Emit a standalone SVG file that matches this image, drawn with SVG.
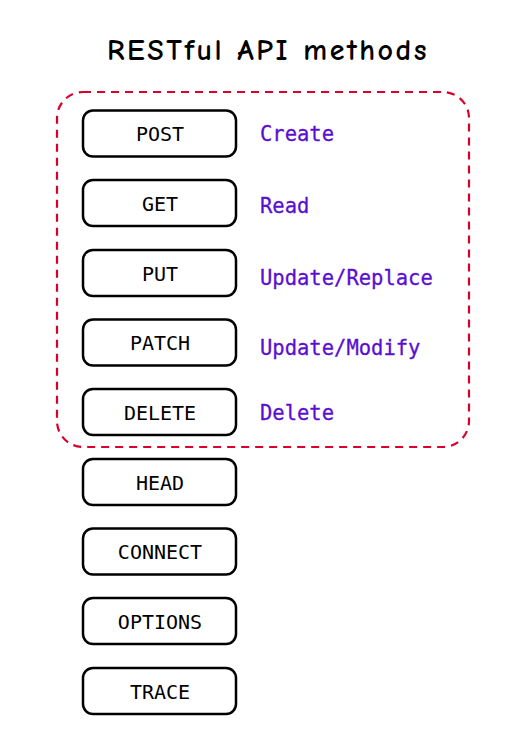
<svg xmlns="http://www.w3.org/2000/svg" width="512" height="752" viewBox="0 0 512 752">
<style>
.box{fill:#fff;stroke:#000;stroke-width:2.5}
.bt{font-family:"DejaVu Sans Mono","Liberation Mono",monospace;font-size:20px;fill:#000;text-anchor:middle}
.lb{font-family:"DejaVu Sans Mono","Liberation Mono",monospace;font-size:20.5px;fill:#5a0fd0;stroke:#5a0fd0;stroke-width:0.3}
.title{font-family:"Comic Sans MS","Comic Neue","DejaVu Sans",sans-serif;font-size:30px;font-weight:bold;fill:#000;text-anchor:middle;letter-spacing:2.5px}
</style>
<rect width="512" height="752" fill="#fff"/>
<text class="title" x="268" y="60">RESTful API methods</text>
<g id="connectors"/>
<g id="group">
<rect x="57" y="92" width="412" height="355" rx="26" fill="none" stroke="#d9002c" stroke-width="2.2" stroke-dasharray="8 6"/>
</g>
<g id="post"><rect class="box" x="83" y="110.5" width="153" height="46" rx="10"/><text class="bt" x="160" y="141">POST</text></g>
<g id="get"><rect class="box" x="83" y="180" width="153" height="46" rx="10"/><text class="bt" x="160" y="211">GET</text></g>
<g id="put"><rect class="box" x="83" y="250" width="153" height="46" rx="10"/><text class="bt" x="160" y="281">PUT</text></g>
<g id="patch"><rect class="box" x="83" y="319.5" width="153" height="46" rx="10"/><text class="bt" x="160" y="350">PATCH</text></g>
<g id="delete"><rect class="box" x="83" y="389" width="153" height="46" rx="10"/><text class="bt" x="160" y="420">DELETE</text></g>
<g id="head"><rect class="box" x="83" y="459" width="153" height="46" rx="10"/><text class="bt" x="160" y="490">HEAD</text></g>
<g id="connect"><rect class="box" x="83" y="528.5" width="153" height="46" rx="10"/><text class="bt" x="160" y="559">CONNECT</text></g>
<g id="options"><rect class="box" x="83" y="598" width="153" height="46" rx="10"/><text class="bt" x="160" y="629">OPTIONS</text></g>
<g id="trace"><rect class="box" x="83" y="668" width="153" height="46" rx="10"/><text class="bt" x="160" y="699">TRACE</text></g>
<g id="labels">
<text class="lb" x="260" y="141">Create</text>
<text class="lb" x="260" y="213">Read</text>
<text class="lb" x="260" y="285">Update/Replace</text>
<text class="lb" x="260" y="355">Update/Modify</text>
<text class="lb" x="260" y="420">Delete</text>
</g>
</svg>
